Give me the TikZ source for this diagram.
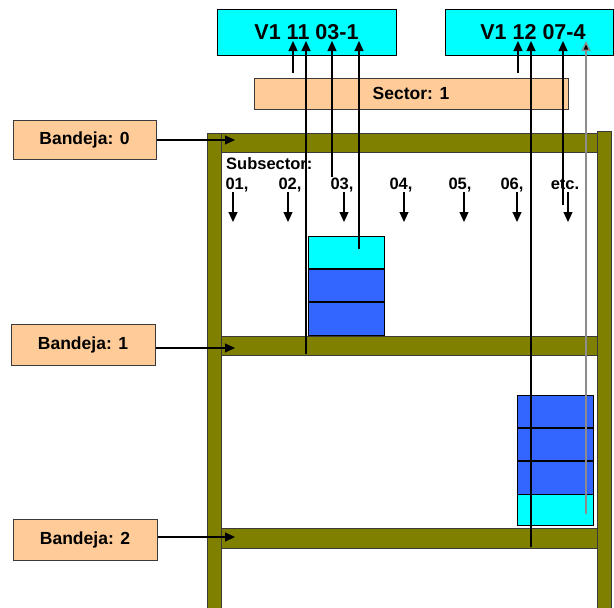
\documentclass[tikz,border=0pt]{standalone}
\usepackage{fontspec}
\setmainfont{Liberation Sans}
\usetikzlibrary{arrows.meta}
\definecolor{peach}{HTML}{FFCC99}
\definecolor{cyanbox}{HTML}{00FFFF}
\definecolor{bluebox}{HTML}{3366FF}
\definecolor{shelf}{HTML}{808000}
\definecolor{edge}{HTML}{3A3A3A}
\begin{document}
\begin{tikzpicture}[x=1pt,y=-1pt,
  peachbox/.style={draw=edge, line width=1pt, fill=peach, inner sep=0pt, font=\fontsize{17.5}{20}\selectfont\bfseries},
  codebox/.style={draw=black, line width=1pt, fill=cyanbox, inner sep=0pt, font=\fontsize{21.5}{24}\selectfont\bfseries},
  shelfpart/.style={draw=edge, line width=0.9pt, fill=shelf},
  crate/.style={draw=black, line width=1pt},
  sep/.style={draw=black, line width=2pt},
  uparr/.style={draw=black, line width=1.1pt, -{Triangle[length=10pt,width=9pt]}},
  grayarr/.style={draw=gray!90, line width=1.4pt, -{Triangle[length=10pt,width=9pt,fill=black]}},
  downarr/.style={draw=black, line width=1.1pt, -{Triangle[length=10pt,width=9pt]}},
  lbl/.style={font=\fontsize{16.5}{19}\selectfont\bfseries, inner sep=0pt}]
\useasboundingbox (0,0) rectangle (614,608);
% shelf frame
\path[shelfpart] (207,133) rectangle (221,609);
\path[shelfpart] (597,131) rectangle (611,609);
\path[shelfpart] (221,133) rectangle (597,152);
\path[shelfpart] (221,336) rectangle (597,355);
\path[shelfpart] (221,528) rectangle (597,548);
% crates on shelf 1
\path[crate, fill=cyanbox] (308,236) rectangle (384,269);
\path[crate, fill=bluebox] (308,269) rectangle (384,302);
\path[crate, fill=bluebox] (308,302) rectangle (384,335);
\draw[sep] (308,269) -- (384,269);
\draw[sep] (308,302) -- (384,302);
% crates on shelf 2
\path[crate, fill=bluebox] (517,395) rectangle (593,428);
\path[crate, fill=bluebox] (517,428) rectangle (593,461);
\path[crate, fill=bluebox] (517,461) rectangle (593,494);
\path[crate, fill=cyanbox] (517,494) rectangle (593,525);
\draw[sep] (517,428) -- (593,428);
\draw[sep] (517,461) -- (593,461);
% code boxes
\node[codebox, minimum width=179pt, minimum height=46pt] (codeA) at (306.5,32) {V1 11 03-1};
\node[codebox, minimum width=168pt, minimum height=46pt] (codeB) at (529,32) {\hspace*{8pt}V1 12 07-4};
% sector
\node[peachbox, minimum width=314pt, minimum height=31pt] (sector) at (411,93.5) {Sector: 1};
% trays
\node[peachbox, minimum width=143pt, minimum height=39pt] (b0) at (84.5,139.5) {Bandeja: 0};
\node[peachbox, minimum width=144pt, minimum height=41pt] (b1) at (83,344.5) {Bandeja: 1};
\node[peachbox, minimum width=144pt, minimum height=41pt] (b2) at (85,539.5) {Bandeja: 2};
\coordinate (t0) at (235,140);
\coordinate (t1) at (235,348);
\coordinate (t2) at (235,537);
\draw[uparr] (b0.east |- t0) -- (t0);
\draw[uparr] (b1.east |- t1) -- (t1);
\draw[uparr] (b2.east |- t2) -- (t2);
% subsector labels
\node[lbl, anchor=base west] (subs) at (226,169) {Subsector:};
\foreach \x/\t/\ax [count=\i] in {237/{01,}/233, 290/{02,}/288, 342/{03,}/344, 401/{04,}/404, 460/{05,}/464, 512/{06,}/517, 565/{etc.}/568}{
  \node[lbl, anchor=base] (s\i) at (\x,189) {\t};
  \coordinate (sa\i) at (\ax,192);
  \coordinate (sb\i) at (\ax,222);
  \draw[downarr] (sa\i) -- (sb\i);
}
% reference lines
\coordinate (tipA) at (0,41);
\coordinate (a1) at (293,73);
\coordinate (a2) at (306,354);
\coordinate (a3) at (332,177);
\coordinate (a4) at (359,249);
\coordinate (c1) at (518,73);
\coordinate (c2) at (531,547);
\coordinate (c3) at (563,205);
\coordinate (c4) at (586,514);
\draw[uparr] (a1) -- (a1 |- tipA);
\draw[uparr] (a2) -- (a2 |- tipA);
\draw[uparr] (a3) -- (a3 |- tipA);
\draw[uparr] (a4) -- (a4 |- tipA);
\draw[uparr] (c1) -- (c1 |- tipA);
\draw[uparr] (c2) -- (c2 |- tipA);
\draw[uparr] (c3) -- (c3 |- tipA);
\draw[grayarr] (c4) -- (c4 |- tipA);
\end{tikzpicture}
\end{document}
